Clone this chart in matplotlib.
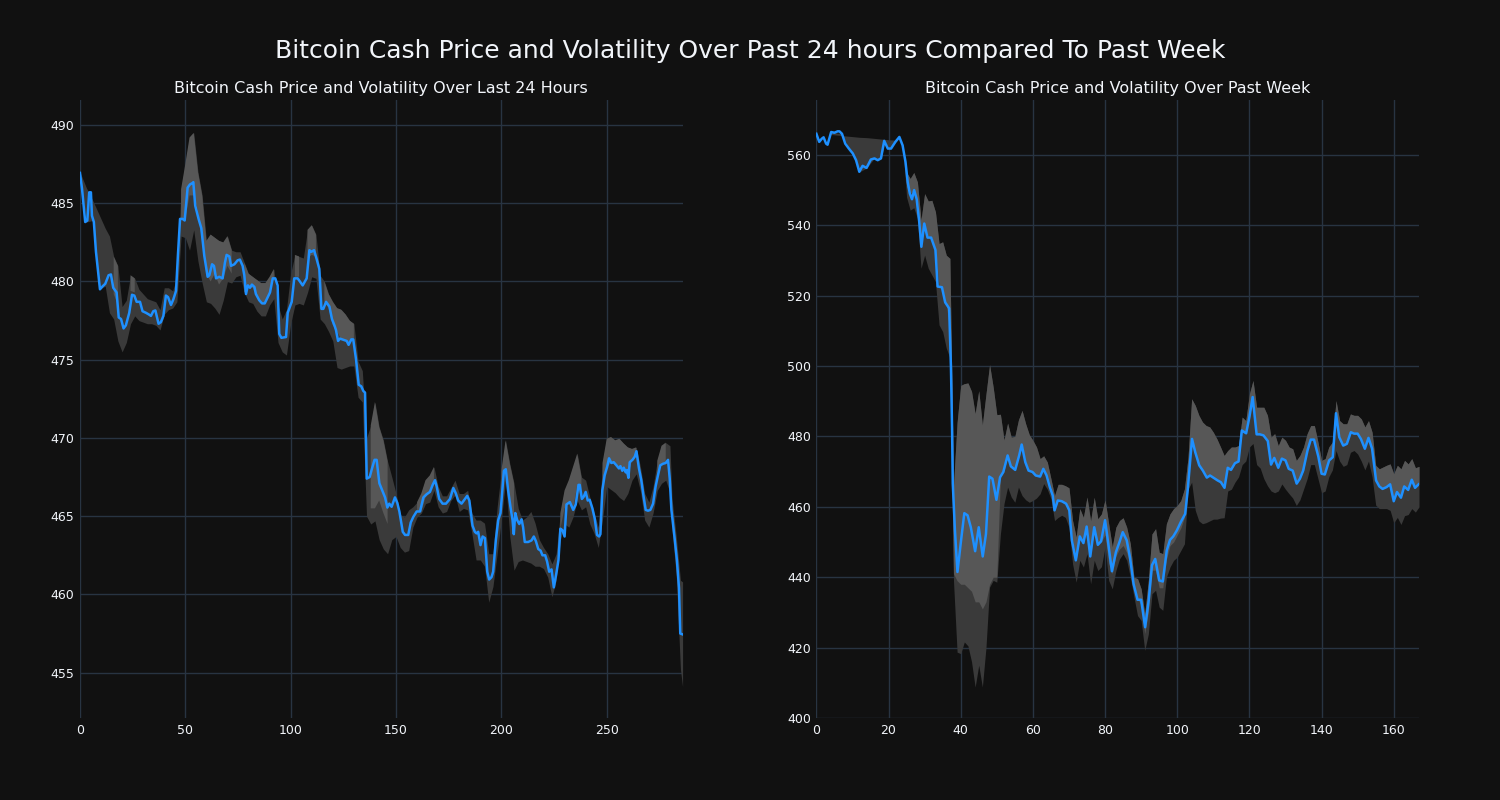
import numpy as np
import matplotlib.pyplot as plt

nan = np.nan

# ---- last 24 hours (5 min steps) ----
day_x = [0, 1, 2.5, 3.5, 4.4, 5.2, 5.7, 6.6, 7.6, 9.5, 10.8, 12, 13.6, 14.7, 15.8, 17.4, 18.4, 19.5,
         20.7, 21.8, 23.4, 24.7, 25.8, 26.9, 28.5, 29.7, 31.3, 32.6, 33.7, 34.8, 35.8, 37.3, 38.4,
         39.6, 40.8, 41.8, 43.2, 44.3, 45.6, 46.5, 47.5, 48.7, 49.7, 51.1, 52.2, 53.5, 53.8, 54.7,
         56.3, 57.6, 59, 60.6, 61.4, 62.7, 63.6, 64.6, 66.1, 67.7, 68.8, 69.6, 70.9, 71.7, 73.3,
         74.8, 75.9, 77.2, 78, 78.8, 79.7, 80.7, 81.6, 82.8, 83.5, 85.1, 86.4, 87.7, 89.1, 90.2,
         91.5, 92.7, 93.8, 94.6, 95.6, 97.8, 98.6, 100.5, 101.7, 103.3, 104.4, 105.7, 107.6, 108.9,
         109.8, 111.1, 112.3, 113.6, 114.6, 115.5, 116.8, 118.4, 119.6, 120.9, 121.5, 122.5, 123.4,
         125.6, 126.6, 127.5, 128.8, 129.7, 131, 132.3, 133.5, 134.5, 135.3, 136.1, 137.5, 138.6,
         139.8, 140.8, 142.1, 143, 144.8, 145.9, 146.8, 147.9, 149.5, 150.6, 151.6, 153.2, 154.3,
         155.8, 157, 158.2, 159.8, 161.4, 163, 164.5, 166.1, 167.4, 168.5, 169.3, 170.5, 172.1,
         173.7, 175.6, 177.2, 178.4, 179.5, 181.1, 182.7, 183.8, 184.8, 186.3, 187.4, 188.2, 189,
         190.1, 191.1, 192.2, 193.3, 194.2, 195.3, 196.1, 197.4, 198.5, 199.6, 200.6, 201.2, 202.1,
         203.2, 204.3, 205.3, 205.9, 206.6, 207.5, 208.5, 209.6, 210.3, 211.1, 212.7, 214.3, 215.4,
         216.4, 217.5, 218.6, 219.5, 220.8, 221.7, 222.7, 223.8, 224.9, 226.1, 227.1, 228, 229, 230,
         230.9, 232.5, 234.1, 235.3, 236.6, 237.2, 238.2, 239.1, 240, 241, 241.9, 243.2, 244.3,
         245.4, 246.4, 247, 247.9, 249, 250.2, 251.1, 252.2, 253.3, 254.6, 255.8, 256.5, 257.4,
         258.1, 259, 259.6, 260.3, 260.9, 262.2, 263.3, 264.1, 265.3, 266.4, 267.5, 268.5, 269.6,
         270.7, 272, 273.2, 274.3, 275.4, 276.7, 278, 279.1, 279.9, 280.7, 282.3, 283.3, 284.3,
         284.9, 285.9]
day_price = [486.94, 485.9, 483.8, 483.9, 485.7, 485.7, 484.2, 483.8, 481.9, 479.5, 479.7, 479.85,
             480.4, 480.45, 479.6, 479.3, 477.7, 477.6, 477.0, 477.2, 478.0, 479.15, 479.1, 478.7,
             478.7, 478.1, 478.0, 477.9, 477.8, 478.1, 478.15, 477.3, 477.4, 477.8, 479.1, 479.0,
             478.5, 478.85, 479.4, 481.7, 484.0, 484.0, 483.9, 486.0, 486.2, 486.3, 486.35, 484.85,
             484.0, 483.4, 481.65, 480.3, 480.4, 481.1, 481.0, 480.2, 480.3, 480.2, 481.2, 481.7,
             481.6, 481.0, 481.1, 481.35, 481.4, 481.0, 480.4, 479.2, 479.75, 479.6, 479.8, 479.65,
             479.2, 478.8, 478.6, 478.6, 479.0, 479.3, 480.2, 480.2, 479.75, 476.65, 476.4, 476.45,
             478.0, 478.7, 480.2, 480.2, 480.0, 479.75, 480.2, 482.0, 481.9, 482.0, 481.45, 480.8,
             478.25, 478.25, 478.7, 478.4, 477.6, 477.15, 476.9, 476.2, 476.35, 476.25, 476.2,
             475.95, 476.3, 476.3, 475.05, 473.4, 473.3, 473.0, 472.9, 467.4, 467.5, 468.05, 468.6,
             468.6, 467.1, 466.8, 466.2, 465.55, 465.8, 465.6, 466.2, 465.85, 465.3, 464.0, 463.8,
             463.8, 464.6, 464.95, 465.3, 465.3, 466.2, 466.4, 466.55, 467.0, 467.3, 466.9, 466.1,
             465.8, 465.8, 466.1, 466.8, 466.45, 466.0, 465.8, 466.1, 466.3, 466.0, 464.4, 464.0,
             463.9, 464.0, 463.15, 463.7, 463.6, 461.45, 460.95, 461.1, 461.45, 463.5, 464.75, 465.2,
             466.9, 467.9, 468.0, 466.65, 465.6, 464.75, 463.85, 465.2, 464.75, 464.5, 464.8, 464.3,
             463.35, 463.35, 463.45, 463.7, 463.4, 462.9, 462.8, 462.5, 462.5, 462.1, 461.45, 461.6,
             460.45, 461.35, 462.2, 464.2, 464.1, 463.7, 465.75, 465.9, 465.4, 465.75, 467.0, 467.0,
             466.1, 466.25, 466.55, 466.0, 466.05, 465.5, 464.85, 463.8, 463.7, 463.85, 466.65, 467.6,
             468.15, 468.7, 468.4, 468.45, 468.25, 468.05, 468.2, 467.9, 468.1, 467.8, 467.95, 467.45,
             468.45, 468.6, 468.8, 469.15, 468.05, 467.3, 466.25, 465.4, 465.35, 465.4, 465.8, 466.9,
             467.6, 468.25, 468.35, 468.4, 468.6, 467.4, 465.4, 463.5, 462.2, 460.4, 457.5, 457.45]

day_band_x = [0, 3, 6, 9, 12] + list(range(14, 279, 2)) + [280, 281, 283, 285, 286]
day_upper = [487.0, 486.0, 485.2, 484.3, 483.4,
             482.9, 481.6, 481.0, 478.4, 478.8, 480.4, 480.2, 479.5, 479.2, 478.9,
             478.8, 478.7, 478.2, 479.6, 479.6, 479.4, 480.3, 485.9, 487.5, 489.2,
             489.5, 487.0, 485.5, 482.6, 483.0, 482.8, 482.6, 482.5, 482.9, 482.0,
             481.9, 481.9, 481.2, 480.5, 480.3, 480.1, 479.9, 479.9, 480.3, 480.8,
             478.5, 477.6, 478.2, 480.5, 481.7, 481.6, 481.5, 483.3, 483.6, 483.0,
             480.4, 480.0, 479.2, 478.7, 478.3, 478.2, 477.9, 477.5, 477.3, 474.9,
             474.3, 470.0, 470.8, 472.3, 470.7, 469.85, 468.5, 467.5, 466.45, 465.1,
             464.95, 465.4, 465.6, 465.9, 466.45, 467.3, 467.6, 468.15, 466.9, 466.3,
             466.3, 466.8, 467.3, 466.45, 466.45, 466.65, 465.2, 464.75, 464.75, 464.55,
             462.6, 462.6, 465.6, 467.9, 469.85, 468.35, 467.1, 465.5, 464.75, 464.95,
             465.3, 464.55, 463.5, 463.0, 462.6, 461.95, 462.6, 465.2, 466.65, 467.3,
             468.15, 469.0, 467.5, 467.3, 466.2, 465.2, 464.3, 468.4, 469.95, 470.06,
             469.85, 469.95, 469.65, 469.4, 469.3, 469.4, 468.15, 466.45, 465.9, 466.9,
             468.55, 469.5, 469.7,
             469.5, 466.1, 463.7, 460.9, 460.8]
day_lower = [486.8, 483.8, 483.9, 479.5, 479.7,
             478.0, 477.6, 476.2, 475.5, 476.1, 477.3, 477.8, 477.5, 477.4, 477.3,
             477.3, 477.2, 476.9, 477.9, 478.2, 478.3, 478.7, 482.9, 482.8, 482.0,
             483.3, 481.3, 479.9, 478.7, 478.6, 478.3, 477.9, 478.8, 480.0, 479.9,
             480.3, 480.4, 479.3, 478.7, 478.6, 478.1, 477.8, 477.8, 478.5, 478.9,
             476.1, 475.5, 475.3, 477.3, 478.5, 478.6, 478.5, 479.3, 480.3, 480.2,
             477.6, 477.3, 476.8, 476.2, 474.5, 474.4, 474.5, 474.6, 474.6, 472.6,
             472.3, 465.0, 464.5, 464.7, 463.5, 462.9, 462.6, 463.5, 463.7, 463.0,
             462.7, 462.8, 464.3, 464.95, 465.2, 465.8, 465.9, 466.65, 465.6, 465.2,
             465.3, 466.0, 466.35, 465.3, 465.5, 465.4, 463.9, 462.2, 462.2, 461.8,
             459.5, 460.5, 462.6, 464.75, 467.3, 463.7, 461.55, 462.1, 462.2, 462.1,
             462.0, 461.8, 461.8, 461.65, 461.1, 459.85, 460.9, 463.5, 464.5, 464.3,
             464.95, 466.0, 465.4, 465.6, 464.5, 463.9, 463.0, 464.8, 466.9, 466.7,
             466.5, 466.2, 466.0, 466.45, 467.3, 467.7, 466.6, 464.75, 464.3, 465.2,
             466.65, 467.1, 467.3,
             466.5, 464.1, 461.2, 455.2, 454.1]
# lower edge of the lighter (overlapping) part of the band, nan where there is none
day_light = [nan, nan, nan, nan, nan,
             nan, 479.2, 478.5, nan, nan, 479.4, 479.3, nan, nan, nan,
             nan, nan, nan, nan, nan, nan, nan, 484.0, 484.0, 485.5,
             485.5, 484.5, 482.5, 480.5, 480.0, 480.5, 479.8, 480.2, 481.0, 480.5,
             nan, nan, 479.3, 479.6, 479.6, 479.0, 478.6, 478.6, 479.3, 480.2,
             nan, nan, nan, nan, 480.3, 480.3, nan, 481.5, 481.7, 481.6,
             nan, 478.7, 478.3, 477.2, 476.8, 476.3, 476.2, 476.0, 476.4, nan,
             nan, nan, 465.5, 465.5, 466.0, 465.2, 464.5, nan, nan, nan,
             nan, nan, nan, 465.3, 465.3, 466.2, 466.5, 467.2, nan, nan,
             nan, nan, nan, nan, nan, nan, nan, nan, nan, nan,
             nan, nan, nan, 466.5, 468.0, 465.6, 465.0, nan, nan, nan,
             nan, nan, nan, nan, nan, nan, nan, 464.2, 465.5, 465.9,
             465.4, 467.0, 466.1, nan, nan, nan, nan, 466.6, 468.1, 468.4,
             468.3, 468.1, 468.0, 467.5, 468.6, 469.0, nan, nan, nan, nan,
             467.6, 468.3, 468.4,
             nan, nan, nan, nan, nan]

# ---- past week (hourly) ----
week_x = [0, 0.8, 1.5, 2, 2.7, 3.1, 4.1, 5, 5.9, 6.4, 7.1, 8, 9, 10.1, 11, 11.9, 12.8, 13.9, 15.1,
          16.1, 17, 17.9, 18.8, 19.8, 20.7, 21.9, 23, 23.9, 24.7, 25.3, 25.9, 26.5, 27.1, 27.8,
          28.5, 29.1, 29.9, 30.8, 31.8, 33, 33.6, 34.8, 35.7, 36.8, 37.3, 37.6, 37.8, 38.4, 39.1,
          40.1, 41, 41.9, 42.8, 44, 45, 46.1, 47, 47.9, 48.8, 49.9, 50.9, 51.8, 53, 53.9, 55.1,
          56.2, 56.9, 57.9, 58.8, 59.9, 60.8, 62, 62.9, 63.8, 64.7, 65.5, 66, 66.9, 68, 69.2, 70.1,
          70.8, 71.9, 73, 74, 74.9, 75.9, 77, 78, 78.9, 80, 80.9, 81.9, 83, 84, 84.9, 86, 86.9,
          87.9, 89, 90, 91.1, 92.1, 93, 93.9, 95, 96, 97.1, 98, 98.9, 99.9, 101, 102.2, 102.9,
          104.1, 105, 106.1, 107.1, 108.2, 109.1, 110, 111.2, 112.1, 113.1, 114, 114.9, 116, 117,
          117.9, 119.1, 120, 120.9, 122, 122.9, 123.9, 125.1, 126, 126.9, 128, 129, 130, 130.9,
          132, 133.1, 134, 134.9, 136.1, 137, 137.9, 139.1, 140, 140.9, 142.1, 143.1, 144, 144.9,
          146, 147, 148.1, 149, 150, 150.9, 152, 153, 154, 155.1, 156, 156.9, 158, 159, 160,
          160.9, 162, 162.9, 164, 165, 165.9, 166.9]
week_price = [566.0, 563.7, 564.6, 565.0, 563.2, 562.9, 566.5, 566.3, 566.7, 566.7, 566.0, 563.2,
              561.8, 560.4, 558.5, 555.2, 556.9, 556.3, 558.7, 559.0, 558.5, 559.0, 564.0, 561.8,
              561.8, 563.7, 565.1, 562.7, 558.0, 552.3, 549.0, 547.4, 550.0, 547.4, 541.0, 533.9,
              540.5, 536.5, 536.5, 533.0, 522.6, 522.4, 518.1, 516.4, 499.4, 482.4, 466.6, 453.3,
              441.5, 450.5, 458.2, 457.6, 454.2, 447.4, 454.2, 445.9, 452.3, 468.6, 468.0, 462.0,
              468.4, 469.9, 474.6, 471.5, 470.5, 474.6, 477.7, 472.7, 470.3, 469.9, 468.9, 468.6,
              470.8, 468.9, 465.6, 463.2, 459.0, 461.8, 461.6, 460.9, 459.0, 450.5, 444.8, 451.6,
              449.7, 454.4, 445.9, 454.2, 449.2, 450.2, 456.2, 449.5, 441.7, 447.1, 450.0, 452.8,
              450.5, 445.7, 438.1, 433.6, 433.6, 425.8, 433.4, 443.4, 445.2, 439.1, 438.8, 447.6,
              450.6, 451.6, 453.3, 455.7, 458.0, 464.7, 479.3, 475.5, 471.8, 470.3, 468.3, 468.9,
              468.3, 467.5, 467.0, 465.4, 471.1, 470.5, 472.4, 472.9, 481.7, 480.9, 485.5, 491.2,
              480.6, 480.6, 480.3, 478.7, 472.0, 473.9, 471.1, 473.7, 473.2, 470.8, 470.3, 466.6,
              468.0, 470.3, 476.0, 479.1, 479.1, 474.3, 469.4, 469.2, 473.2, 474.1, 486.6, 479.8,
              477.4, 477.9, 481.2, 480.8, 480.8, 479.3, 476.5, 479.6, 476.5, 467.5, 465.8, 465.1,
              465.6, 466.4, 461.6, 464.2, 462.6, 465.8, 464.8, 467.7, 465.4, 466.4]

week_band_x = [4, 7, 9, 11, 12, 14, 16, 18, 19, 20, 22, 23, 24] + list(range(25, 168))
week_upper = [565.8, 565.5, 565.3, 565.1, 565.0, 564.9, 564.7, 564.5, 564.4, 564.3, 564.2, 565.1, 562.8,
              555.0, 553.3, 555.0, 552.3, 541.5, 549.0, 546.9, 547.1, 543.8, 534.8,
              535.3, 531.5, 530.6, 466.0, 484.0, 494.5, 495.0, 495.2, 492.8, 486.5,
              493.0, 483.3, 492.0, 500.4, 494.0, 486.2, 486.3, 479.0, 483.8, 479.8,
              480.0, 484.7, 487.4, 483.6, 480.5, 478.9, 477.0, 473.7, 474.5, 472.7,
              468.0, 463.2, 466.4, 466.4, 466.0, 465.4, 456.1, 451.4, 459.5, 457.0,
              462.8, 456.0, 462.7, 456.6, 458.0, 462.0, 455.2, 448.6, 454.2, 456.1,
              456.9, 454.2, 449.5, 440.0, 439.6, 436.7, 429.6, 439.1, 452.3, 453.8,
              447.1, 446.7, 455.2, 458.0, 459.5, 460.4, 461.8, 465.1, 474.1, 490.7,
              488.8, 486.0, 484.1, 483.1, 482.7, 481.2, 479.3, 477.0, 474.6, 476.0,
              477.0, 477.0, 477.4, 485.5, 484.5, 492.1, 495.9, 488.3, 488.3, 488.3,
              486.0, 479.8, 480.8, 477.4, 479.8, 478.9, 477.0, 476.5, 473.2, 474.6,
              477.0, 480.8, 483.1, 483.1, 478.4, 473.2, 473.7, 477.0, 478.4, 490.2,
              484.5, 483.6, 483.6, 486.4, 486.0, 486.0, 485.0, 482.7, 484.5, 481.2,
              471.8, 470.8, 471.3, 471.8, 472.2, 469.4, 471.8, 470.8, 473.2, 472.2,
              473.7, 471.1, 471.5]
week_lower = [566.5, 566.0, 561.8, 558.5, 555.2, 556.3, 559.0, 559.0, 564.0, 561.8, 563.7, 565.0, 562.5,
              548.0, 544.3, 545.0, 542.0, 527.8, 531.5, 527.8, 525.9, 524.0, 511.7,
              509.8, 505.1, 502.3, 439.0, 418.7, 418.3, 421.6, 420.5, 416.0, 408.8,
              415.0, 408.8, 420.0, 437.2, 439.1, 438.6, 452.3, 460.9, 465.6, 462.8,
              461.3, 465.6, 463.2, 462.0, 461.3, 461.8, 462.5, 463.7, 466.6, 465.0,
              462.3, 456.1, 457.0, 457.6, 457.0, 454.2, 443.8, 438.6, 444.8, 442.9,
              446.7, 438.1, 444.8, 441.9, 443.0, 448.6, 439.1, 436.7, 441.9, 445.2,
              446.7, 444.8, 440.0, 434.4, 429.1, 427.7, 419.2, 423.9, 435.3, 436.3,
              431.5, 430.6, 440.0, 442.9, 444.8, 445.7, 447.6, 449.5, 465.0, 467.0,
              459.0, 456.0, 455.2, 455.5, 456.0, 456.5, 456.5, 456.8, 456.9, 464.5,
              465.0, 467.0, 468.5, 472.0, 473.0, 477.0, 478.0, 472.0, 471.0, 468.0,
              466.0, 464.5, 464.0, 464.5, 466.5, 465.0, 463.7, 462.5, 460.4, 462.0,
              465.0, 468.0, 472.0, 472.0, 468.0, 464.0, 464.5, 468.5, 470.5, 476.0,
              473.0, 471.5, 472.0, 475.5, 476.0, 475.0, 473.0, 470.5, 473.0, 468.5,
              460.5, 459.5, 459.5, 459.5, 459.0, 455.5, 457.0, 455.0, 457.5, 457.8,
              459.5, 458.5, 460.0]
week_light = [nan, nan, nan, nan, nan, nan, nan, nan, nan, nan, nan, nan, nan,
              551.0, 549.0, 550.0, 547.0, 534.0, 540.0, 536.5, 536.5, 533.0, 522.6,
              522.0, 517.5, 510.0, 441.0, 439.0, 438.0, 438.0, 437.0, 436.0, 433.0,
              433.0, 431.0, 433.0, 438.0, 440.0, 440.0, 468.4, 470.0, 474.6, 471.5,
              470.5, 474.6, 477.7, 472.7, 470.3, 469.9, 468.9, 468.6, 470.8, 468.9,
              465.6, 459.0, 461.8, 461.6, 460.9, 459.0, 450.5, 444.8, 451.6, 449.7,
              454.4, 445.9, 454.2, 449.2, 450.2, 452.0, 444.0, 441.0, 446.0, 448.0,
              449.0, 447.0, 443.0, 437.0, 434.0, 432.0, 424.0, 430.0, 442.0, 442.0,
              437.0, 437.0, 445.0, 449.0, 450.0, 452.0, 454.0, 457.0, 470.0, 479.3,
              475.5, 471.8, 470.3, 468.3, 468.9, 468.3, 467.5, 467.0, 465.4, 471.1,
              470.5, 472.4, 472.9, 481.7, 480.9, 485.5, 491.2, 480.6, 480.6, 480.3,
              478.7, 472.0, 473.9, 471.1, 473.7, 473.2, 470.8, 470.3, 466.6, 468.0,
              470.3, 476.0, 479.1, 479.1, 474.3, 469.4, 469.2, 473.2, 474.1, 486.6,
              479.8, 477.4, 477.9, 481.2, 480.8, 480.8, 479.3, 476.5, 479.6, 476.5,
              467.5, 465.8, 465.1, 465.6, 466.4, 461.6, 464.2, 462.6, 465.8, 464.8,
              467.7, 465.4, 466.4]

BG = '#111111'
GRID = '#283442'
TXT = '#f2f5fa'

fig, axes = plt.subplots(1, 2, figsize=(15, 8), dpi=100, facecolor=BG)
fig.subplots_adjust(left=0.0533, right=0.946, bottom=0.1025, top=0.875, wspace=0.222)

panels = [
    (axes[0], day_x, day_price, day_band_x, day_upper, day_lower, day_light,
     'Bitcoin Cash Price and Volatility Over Last 24 Hours', (0, 286), (452.1, 491.6),
     np.arange(455, 491, 5), np.arange(0, 251, 50)),
    (axes[1], week_x, week_price, week_band_x, week_upper, week_lower, week_light,
     'Bitcoin Cash Price and Volatility Over Past Week', (0, 167), (400, 575.6),
     np.arange(400, 561, 20), np.arange(0, 161, 20)),
]

for ax, px, py, bx, up, lo, light, title, xl, yl, yt, xt in panels:
    ax.set_facecolor(BG)
    ax.fill_between(bx, lo, up, color='#3a3a3a', lw=0, zorder=2)
    ax.fill_between(bx, light, up, color='#575757', lw=0, zorder=3)
    ax.plot(px, py, color='#1E90FF', lw=1.8, zorder=4)
    ax.set_xlim(*xl)
    ax.set_ylim(*yl)
    ax.set_yticks(yt)
    ax.set_xticks(xt)
    ax.grid(True, color=GRID, lw=1, zorder=0)
    ax.set_axisbelow(True)
    for s in ax.spines.values():
        s.set_visible(False)
    ax.tick_params(colors=TXT, labelsize=9, length=0, pad=4)
    ax.set_title(title, color=TXT, fontsize=11.5, pad=5)

fig.suptitle('Bitcoin Cash Price and Volatility Over Past 24 hours Compared To Past Week',
             color=TXT, fontsize=18, y=0.951)

fig.savefig('out.png', facecolor=BG)
